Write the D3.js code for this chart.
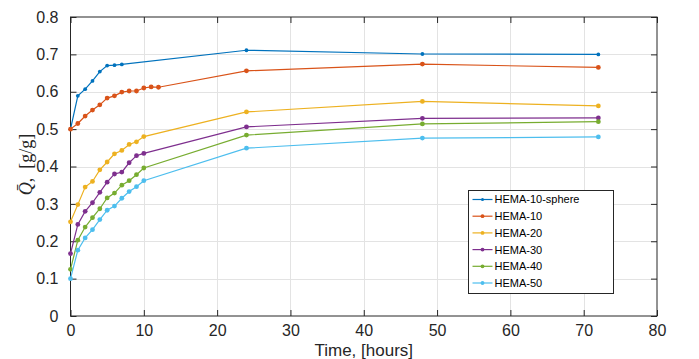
<!DOCTYPE html>
<html>
<head>
<meta charset="utf-8">
<script src="https://cdn.jsdelivr.net/npm/d3@7"></script>
<style>
  html, body { margin: 0; padding: 0; background: #fff; }
  svg { display: block; }
</style>
</head>
<body>
<svg id="chart" width="699" height="359"></svg>
<script>
// Sorption time points (hours) for each sample series
const tSphere = [0, 1, 2, 3, 4, 5, 6, 7, 24, 48, 72];
const tHema10 = [0, 1, 2, 3, 4, 5, 6, 7, 8, 9, 10, 11, 12, 24, 48, 72];
const tHemaN  = [0, 1, 2, 3, 4, 5, 6, 7, 8, 9, 10, 24, 48, 72];

// Mean uptake Q̄ [g/g]
const qSphere = [0.500, 0.589, 0.607, 0.629, 0.654, 0.670, 0.671, 0.673, 0.711, 0.701, 0.700];
const qHema10 = [0.500, 0.515, 0.535, 0.551, 0.565, 0.583, 0.589, 0.599, 0.602, 0.602, 0.610, 0.613, 0.612, 0.656, 0.674, 0.665];
const qHema20 = [0.252, 0.298, 0.345, 0.360, 0.391, 0.412, 0.434, 0.443, 0.459, 0.466, 0.480, 0.546, 0.574, 0.562];
const qHema30 = [0.167, 0.245, 0.280, 0.303, 0.331, 0.358, 0.380, 0.385, 0.410, 0.429, 0.435, 0.506, 0.529, 0.530];
const qHema40 = [0.125, 0.203, 0.238, 0.263, 0.287, 0.316, 0.329, 0.350, 0.362, 0.378, 0.396, 0.484, 0.514, 0.520];
const qHema50 = [0.100, 0.176, 0.209, 0.231, 0.258, 0.283, 0.294, 0.315, 0.333, 0.346, 0.362, 0.449, 0.476, 0.479];

const seriesNames = ["HEMA-10-sphere", "HEMA-10", "HEMA-20", "HEMA-30", "HEMA-40", "HEMA-50"];
const seriesColors = ["#0072BD", "#D95319", "#EDB120", "#7E2F8E", "#77AC30", "#4DBEEE"];

const xTicks = [0, 10, 20, 30, 40, 50, 60, 70, 80];
const yTicks = [0, 0.1, 0.2, 0.3, 0.4, 0.5, 0.6, 0.7, 0.8];

const series = [
  { name: seriesNames[0], t: tSphere, q: qSphere, color: seriesColors[0], r: 1.9 },
  { name: seriesNames[1], t: tHema10, q: qHema10, color: seriesColors[1], r: 2.4 },
  { name: seriesNames[2], t: tHemaN,  q: qHema20, color: seriesColors[2], r: 2.4 },
  { name: seriesNames[3], t: tHemaN,  q: qHema30, color: seriesColors[3], r: 2.4 },
  { name: seriesNames[4], t: tHemaN,  q: qHema40, color: seriesColors[4], r: 2.4 },
  { name: seriesNames[5], t: tHemaN,  q: qHema50, color: seriesColors[5], r: 2.4 }
];

const plotL = 70.5, plotR = 657, plotT = 17, plotB = 316;
const axisColor = "#262626";
const font = "'Liberation Sans', Arial, Helvetica, sans-serif";

const svg = d3.select("#chart");
const x = d3.scaleLinear().domain([0, 80]).range([plotL, plotR]);
const y = d3.scaleLinear().domain([0, 0.8]).range([plotB, plotT]);

// Grid
const grid = svg.append("g").attr("stroke", "#e3e3e3").attr("stroke-width", 1);
grid.selectAll("line.gx").data(xTicks.slice(1, -1)).join("line")
  .attr("x1", d => Math.round(x(d)) + 0.5).attr("x2", d => Math.round(x(d)) + 0.5)
  .attr("y1", plotT).attr("y2", plotB);
grid.selectAll("line.gy").data(yTicks.slice(1, -1)).join("line")
  .attr("y1", d => Math.round(y(d)) + 0.5).attr("y2", d => Math.round(y(d)) + 0.5)
  .attr("x1", plotL).attr("x2", plotR);

// Axes with inward ticks
const tickLen = 6;
const xAxisB = svg.append("g").attr("transform", `translate(0,${plotB})`)
  .call(d3.axisBottom(x).tickValues(xTicks).tickSizeInner(-tickLen).tickSizeOuter(0).tickPadding(9).tickFormat(d3.format("d")));
const xAxisT = svg.append("g").attr("transform", `translate(0,${plotT})`)
  .call(d3.axisTop(x).tickValues(xTicks).tickSizeInner(-tickLen).tickSizeOuter(0).tickFormat(""));
const yAxisL = svg.append("g").attr("transform", `translate(${plotL},0)`)
  .call(d3.axisLeft(y).tickValues(yTicks).tickSizeInner(-tickLen).tickSizeOuter(0).tickPadding(12).tickFormat(d => d === 0 ? "0" : d3.format(".1f")(d)));
const yAxisR = svg.append("g").attr("transform", `translate(${plotR},0)`)
  .call(d3.axisRight(y).tickValues(yTicks).tickSizeInner(-tickLen).tickSizeOuter(0).tickFormat(""));

[xAxisB, xAxisT, yAxisL, yAxisR].forEach(g => {
  g.select(".domain").remove();
  g.selectAll("line").attr("stroke", axisColor).attr("stroke-width", 1);
  g.selectAll("text").attr("fill", axisColor).style("font-family", font).style("font-size", "16px");
});

// Box
svg.append("rect")
  .attr("x", plotL).attr("y", plotT).attr("width", plotR - plotL).attr("height", plotB - plotT)
  .attr("fill", "none").attr("stroke", axisColor).attr("stroke-width", 1);

// Series
const line = d3.line().x(d => x(d[0])).y(d => y(d[1]));
series.forEach(s => {
  const pts = s.t.map((t, i) => [t, s.q[i]]);
  const g = svg.append("g");
  g.append("path").datum(pts).attr("d", line)
    .attr("fill", "none").attr("stroke", s.color).attr("stroke-width", 1.2);
  g.selectAll("circle").data(pts).join("circle")
    .attr("cx", d => x(d[0])).attr("cy", d => y(d[1])).attr("r", s.r)
    .attr("fill", s.color);
});

// Axis labels
svg.append("text")
  .attr("x", (plotL + plotR) / 2).attr("y", 356)
  .attr("text-anchor", "middle").attr("fill", axisColor)
  .style("font-family", font).style("font-size", "17px")
  .text("Time, [hours]");

const yl = svg.append("text")
  .attr("transform", `translate(32,${(plotT + plotB) / 2 - 2}) rotate(-90)`)
  .attr("text-anchor", "middle").attr("fill", axisColor)
  .style("font-family", "'Liberation Serif', 'DejaVu Serif', serif").style("font-size", "18px");
yl.append("tspan").style("font-style", "italic").text("Q\u0304");
yl.append("tspan").text(",\u2002[g/g]");

// Legend
const lg = svg.append("g");
const lx = 468.5, ly = 190.5, lw = 145, lh = 103;
lg.append("rect").attr("x", lx).attr("y", ly).attr("width", lw).attr("height", lh)
  .attr("fill", "#fff").attr("stroke", axisColor).attr("stroke-width", 1);
const items = lg.selectAll("g.item").data(series).join("g")
  .attr("transform", (d, i) => `translate(${lx},${ly + 9 + i * 16.7})`);
items.append("line").attr("x1", 4).attr("x2", 24).attr("y1", 0).attr("y2", 0)
  .attr("stroke", d => d.color).attr("stroke-width", 1.2);
items.append("circle").attr("cx", 14).attr("cy", 0).attr("r", d => d.r * 0.8).attr("fill", d => d.color);
items.append("text").attr("x", 26).attr("y", 0).attr("dy", "0.36em")
  .attr("fill", "#000").style("font-family", font).style("font-size", "11px")
  .text(d => d.name);
</script>
</body>
</html>
